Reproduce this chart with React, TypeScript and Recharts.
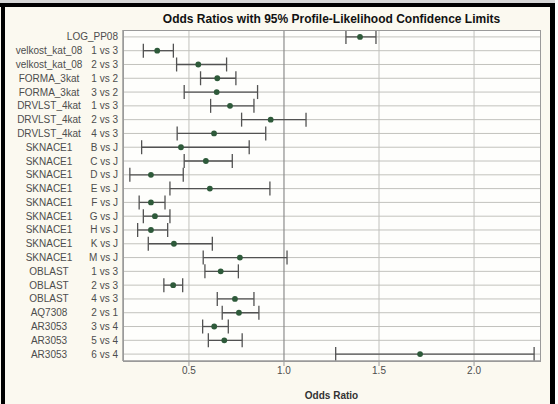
import { ScatterChart, Scatter, XAxis, YAxis, CartesianGrid, ErrorBar, ReferenceLine } from "recharts";

// effect names and the comparison shown beside them
const effects = [
  "LOG_PP08", "velkost_kat_08", "velkost_kat_08", "FORMA_3kat", "FORMA_3kat",
  "DRVLST_4kat", "DRVLST_4kat", "DRVLST_4kat",
  "SKNACE1", "SKNACE1", "SKNACE1", "SKNACE1", "SKNACE1", "SKNACE1", "SKNACE1", "SKNACE1", "SKNACE1",
  "OBLAST", "OBLAST", "OBLAST", "AQ7308", "AR3053", "AR3053", "AR3053"
];
const comparisons = [
  "", "1 vs 3", "2 vs 3", "1 vs 2", "3 vs 2",
  "1 vs 3", "2 vs 3", "4 vs 3",
  "B vs J", "C vs J", "D vs J", "E vs J", "F vs J", "G vs J", "H vs J", "K vs J", "M vs J",
  "1 vs 3", "2 vs 3", "4 vs 3", "2 vs 1", "3 vs 4", "5 vs 4", "6 vs 4"
];
const estimates = [
  1.40, 0.333, 0.549, 0.649, 0.646,
  0.716, 0.93, 0.632,
  0.458, 0.589, 0.30, 0.61, 0.30, 0.321, 0.30, 0.421, 0.768,
  0.667, 0.417, 0.742, 0.763, 0.633, 0.686, 1.716
];
const lowerLimits = [
  1.326, 0.26, 0.435, 0.561, 0.475,
  0.614, 0.777, 0.438,
  0.251, 0.475, 0.189, 0.40, 0.238, 0.26, 0.23, 0.286, 0.575,
  0.584, 0.368, 0.649, 0.675, 0.572, 0.602, 1.272
];
const upperLimits = [
  1.484, 0.418, 0.698, 0.747, 0.861,
  0.842, 1.116, 0.904,
  0.817, 0.728, 0.47, 0.926, 0.374, 0.40, 0.388, 0.623, 1.016,
  0.76, 0.467, 0.842, 0.868, 0.707, 0.78, 2.316
];
const xTicks = [0.5, 1.0, 1.5, 2.0];
const xDomain = [0.153, 2.347];

const labels = effects.map((e, i) => `${e} ${comparisons[i]}`.trim());
const rows = labels.map((label, i) => ({
  label,
  est: estimates[i],
  err: [estimates[i] - lowerLimits[i], upperLimits[i] - estimates[i]],
  // full-width span, used for the row grid lines
  span: [estimates[i] - xDomain[0], xDomain[1] - estimates[i]]
}));

const font = "'Liberation Sans', Arial, sans-serif";
const labelColor = "#4d4d4d";
const gridColor = "#c2c2bd";

function EffectTick(props: any) {
  const { x, y, payload } = props;
  const i = labels.indexOf(payload.value);
  const common = { fontSize: 10, fill: labelColor, fontFamily: font, dy: "0.35em" };
  if (!comparisons[i]) {
    return <text x={x} y={y} textAnchor="end" {...common}>{effects[i]}</text>;
  }
  return (
    <g>
      <text x={49} y={y} textAnchor="middle" {...common}>{effects[i]}</text>
      <text x={x} y={y} textAnchor="end" {...common}>{comparisons[i]}</text>
    </g>
  );
}

export default function App() {
  return (
    <div style={{ position: "fixed", left: 0, top: 0, width: 558, height: 404, background: "#fbf9f0", overflow: "hidden", fontFamily: font }}>
      <ScatterChart width={558} height={404} margin={{ top: 30, right: 18, bottom: 0, left: 0 }}>
        <CartesianGrid horizontal={false} vertical={false} fill="#fefefc" />
        <XAxis
          type="number"
          dataKey="est"
          domain={xDomain}
          allowDataOverflow
          ticks={xTicks}
          tickFormatter={(v: number) => v.toFixed(1)}
          height={43}
          tickSize={5}
          tickMargin={1}
          axisLine={{ stroke: "#9a9a9a", strokeWidth: 1.5 }}
          tickLine={{ stroke: "#9a9a9a" }}
          tick={{ fontSize: 10, fill: labelColor, fontFamily: font }}
          label={{ value: "Odds Ratio", position: "insideBottom", offset: 5, style: { fontSize: 10, fontWeight: "bold", fill: "#333", fontFamily: font } }}
        />
        <YAxis
          type="category"
          dataKey="label"
          reversed
          width={123}
          tickSize={0}
          tickMargin={5}
          interval={0}
          axisLine={{ stroke: "#9a9a9a", strokeWidth: 1.5 }}
          tick={<EffectTick />}
        />
        {/* row grid lines */}
        <Scatter data={rows} isAnimationActive={false} shape={() => <g />}>
          <ErrorBar dataKey="span" direction="x" width={0} stroke={gridColor} strokeWidth={1} />
        </Scatter>
        <ReferenceLine x={xTicks[0]} stroke={gridColor} strokeWidth={1} />
        <ReferenceLine x={xTicks[2]} stroke={gridColor} strokeWidth={1} />
        <ReferenceLine x={xTicks[3]} stroke={gridColor} strokeWidth={1} />
        <ReferenceLine x={1} stroke="#8c8c8c" strokeWidth={1.2} />
        <Scatter
          data={rows}
          isAnimationActive={false}
          fill="#2e5a3a"
          shape={(p: any) => <circle cx={p.cx} cy={p.cy} r={2.9} fill="#2e5a3a" />}
        >
          <ErrorBar dataKey="err" direction="x" width={7} stroke="#525252" strokeWidth={1.3} />
        </Scatter>
      </ScatterChart>
      {/* plot frame top/right */}
      <div style={{ position: "absolute", left: 123, top: 30, width: 416, height: 330, border: "1.5px solid #9a9a9a", boxSizing: "content-box", pointerEvents: "none" }} />
      <div style={{ position: "absolute", left: 123, top: 12, width: 417, height: 15, lineHeight: "15px", textAlign: "center", fontSize: 12, fontWeight: "bold", color: "#111" }}>
        Odds Ratios with 95% Profile-Likelihood Confidence Limits
      </div>
      {/* outer frame */}
      <div style={{ position: "absolute", left: 0, top: 0, width: 558, height: 3, background: "#d6d6d6" }} />
      <div style={{ position: "absolute", left: 0, top: 3, width: 555, height: 4, background: "#000" }} />
      <div style={{ position: "absolute", left: 1, top: 3, width: 4, height: 401, background: "#000" }} />
      <div style={{ position: "absolute", left: 550, top: 3, width: 5, height: 401, background: "#000" }} />
      <div style={{ position: "absolute", left: 555, top: 0, width: 3, height: 404, background: "#fff" }} />
    </div>
  );
}
